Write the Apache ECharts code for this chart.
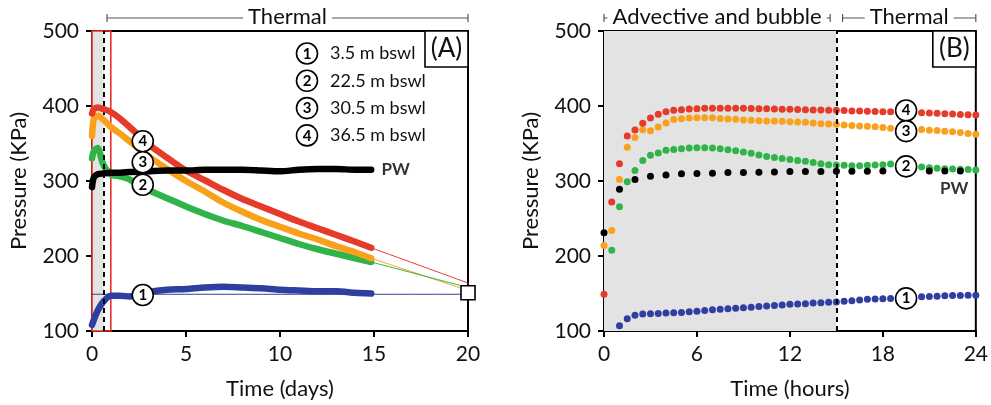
<!DOCTYPE html>
<html><head><meta charset="utf-8">
<script src="https://cdn.jsdelivr.net/npm/echarts/dist/echarts.min.js"></script>
<style>html,body{margin:0;padding:0;background:#fff}#c{width:991px;height:405px}</style>
</head><body><div id="c"></div>
<script>
const FONT = 'Lato';
const C_RED = '#e63a2a', C_ORA = '#f9a11b', C_GRN = '#30b449', C_BLU = '#2e3f9f', C_BLK = '#000';

// ---------- Panel A : time in days ----------
const daysA   = [0, 0.1, 0.3, 0.6, 1, 1.5, 2, 3, 4, 5, 6, 7, 8, 9, 10, 11, 12, 13, 14, 14.85];
const depth4A = [390, 396, 398, 396, 392, 383, 372, 349, 331, 314, 301, 288, 276, 266, 256, 246, 237, 228, 219, 211];
const depth3A = [360, 383, 387, 382, 372, 363, 353, 333, 316, 300, 286, 271, 259, 248, 239, 230, 222, 213, 205, 197];
const depth2A = [330, 340, 344, 322, 309, 306, 302, 288, 277, 266, 256, 247, 240, 232, 224, 216, 209, 203, 197, 192];
const pwA     = [292, 305, 309, 310, 311, 311, 312, 313, 314, 314, 315, 315, 315, 314, 313, 315, 316, 316, 315, 315];
const depth1A = [108, 115, 127, 139, 147, 147, 146, 152, 155, 156, 158, 159, 158, 157, 155, 154, 153, 153, 151, 150];
// projected end values at day 20 (thin connectors)
const endDayA = 20;
const end4A = 164, end3A = 154, end2A = 158, hydroA = 149, squareA = 151;
const regimeSplitDays = 0.625;   // 15 h
const boxEndDays = 1;

// ---------- Panel B : time in hours ----------
const hoursB = [0,0.5,1,1.5,2,2.5,3,3.5,4,4.5,5,5.5,6,6.5,7,7.5,8,8.5,9,9.5,10,10.5,11,11.5,12,12.5,13,13.5,14,14.5,15,15.5,16,16.5,17,17.5,18,18.5,19,19.5,20,20.5,21,21.5,22,22.5,23,23.5,24];
const depth4B = [149,272,323,360,368,377,384,389,392.5,394.3,395,396,396.5,397,397,397,397,397,397,396.8,396.5,396.3,396,395.8,395.6,395.3,395,394.8,394.6,394.4,394.2,393.9,393.5,393.2,392.9,392.7,392.5,392.3,null,null,null,390.9,390.6,390.2,389.6,389.2,388.8,388.4,388];
const depth3B = [214,234,302,345,358,368.5,367,372,377.5,382,383,384,384.3,384.3,384.2,383.5,382.6,382.2,381.3,380.9,380.4,380,380,379.6,379.1,378.7,378.3,377.4,376.5,376.1,375.6,374.8,373.9,373.5,373,372.2,371.3,370.4,null,null,null,368.7,367.8,367.4,366.5,365.7,364.8,363.5,362.2];
const depth2B = [null,207.8,265.7,299,314,327.4,334.3,337.4,341,342,343,344,344.3,344.3,344,343,341.7,340.4,338.7,337,334.8,332.6,331.3,330,328.7,327.4,326.5,324.8,323,321.7,321.3,320.9,320.4,320.4,320.9,321.3,321.7,322.6,null,null,null,318.7,317.8,317,316.5,316,315.7,315.2,314.8];
const pwB     = [231,null,289,null,302,null,306.5,null,308,null,309.6,null,310,null,310.4,null,311.3,null,311.3,null,311.7,null,312,null,312.6,null,312.6,null,312.6,null,313,null,313,null,313,null,313.5,null,null,null,null,null,313.5,null,313.5,null,313.5,null,null];
const depth1B = [null,null,107,116.5,121,122.6,123,123.5,124,124.3,124.8,125.7,126.5,127.4,128.3,129,129.6,130.4,130.9,131.7,132.6,133.5,134,134.8,135.7,136.1,136.5,137.4,137.8,138.3,138.7,139.6,140.4,141.3,142.2,142.6,143,143.5,null,null,null,145.7,146,146.4,146.9,147.2,147.4,147.6,147.8];
const regimeSplitHours = 15;

// ---------- labels ----------
const legendIds   = ['1', '2', '3', '4'];
const legendTexts = ['3.5 m bswl', '22.5 m bswl', '30.5 m bswl', '36.5 m bswl'];
const tagsA = [['4', 2.7, 353], ['3', 2.7, 325], ['2', 2.7, 295], ['1', 2.7, 148]];
const tagsB = [['4', 19.5, 394], ['3', 19.5, 366.5], ['2', 19.5, 319.5], ['1', 19.5, 143.5]];
const pwLabelA = [15.4, 315];
const pwLabelB = [22.6, 290];

const pairs = (xs, ys) => xs.map((x, i) => [x, ys[i]]).filter(p => p[1] != null);

const axisCommon = {
  axisLine: { onZero: false, lineStyle: { color: '#000', width: 2 } },
  axisTick: { length: 6, lineStyle: { color: '#000', width: 2 } },
  axisLabel: { fontSize: 21, fontFamily: FONT, color: '#111', margin: 13 },
  splitLine: { show: false },
  nameLocation: 'middle',
  nameTextStyle: { fontSize: 22, fontFamily: FONT, color: '#111' }
};
const mk = (o) => Object.assign(JSON.parse(JSON.stringify(axisCommon)), o);

function lineA(data, color, w, z) {
  return { type: 'line', xAxisIndex: 0, yAxisIndex: 0, data, symbol: 'none', smooth: 0.25,
    lineStyle: { color, width: w, cap: 'round', join: 'round', opacity: 1 }, z, silent: true };
}
function dotsB(ys, color) {
  return { type: 'scatter', xAxisIndex: 1, yAxisIndex: 1, data: pairs(hoursB, ys), symbolSize: 7,
    itemStyle: { color, opacity: 1 }, z: 3, silent: true };
}
function tagSeries(tags, gi) {
  return { type: 'scatter', xAxisIndex: gi, yAxisIndex: gi, z: 20, silent: true,
    data: tags.map(t => ({ value: [t[1], t[2]], name: t[0] })),
    symbol: 'circle', symbolSize: 21,
    itemStyle: { color: '#fff', borderColor: '#000', borderWidth: 1.6, opacity: 1 },
    label: { show: true, position: 'inside', formatter: p => p.name, color: '#000',
      fontSize: 15, fontWeight: 'bold', fontFamily: FONT } };
}
function pwSeries(pos, gi, align) {
  return { type: 'scatter', xAxisIndex: gi, yAxisIndex: gi, z: 20, silent: true,
    data: [pos], symbolSize: 1, itemStyle: { color: 'rgba(0,0,0,0)' },
    label: { show: true, position: 'inside', align, formatter: 'PW', color: '#000',
      fontSize: 17, fontWeight: 'bold', fontFamily: FONT } };
}

const option = {
  animation: false,
  backgroundColor: '#fff',
  textStyle: { fontFamily: FONT },
  grid: [
    { left: 92, right: 523, top: 31, bottom: 67, show: true, borderColor: '#000', borderWidth: 2, backgroundColor: 'transparent' },
    { left: 604, right: 12, top: 31, bottom: 67, show: true, borderColor: '#000', borderWidth: 2, backgroundColor: 'transparent' }
  ],
  xAxis: [
    mk({ gridIndex: 0, type: 'value', min: 0, max: 20, interval: 5, name: 'Time (days)', nameGap: 47 }),
    mk({ gridIndex: 1, type: 'value', min: 0, max: 24, interval: 6, name: 'Time (hours)', nameGap: 47 })
  ],
  yAxis: [
    mk({ gridIndex: 0, type: 'value', min: 100, max: 500, interval: 100, name: 'Pressure (KPa)', nameGap: 62 }),
    mk({ gridIndex: 1, type: 'value', min: 100, max: 500, interval: 100, name: 'Pressure (KPa)', nameGap: 62 })
  ],
  series: [
    { type: 'line', xAxisIndex: 0, yAxisIndex: 0, data: [], z: 1, silent: true,
      markArea: { silent: true, itemStyle: { color: '#e3e3e3' }, data: [[{ xAxis: 0, yAxis: 100 }, { xAxis: regimeSplitDays, yAxis: 500 }]] },
      markLine: { silent: true, symbol: 'none', label: { show: false }, lineStyle: { color: '#000', type: [5, 4], width: 2 },
        data: [{ xAxis: regimeSplitDays }] } },
    { type: 'line', xAxisIndex: 1, yAxisIndex: 1, data: [], z: 1, silent: true,
      markArea: { silent: true, itemStyle: { color: '#e3e3e3' }, data: [[{ xAxis: 0, yAxis: 100 }, { xAxis: regimeSplitHours, yAxis: 500 }]] },
      markLine: { silent: true, symbol: 'none', label: { show: false }, lineStyle: { color: '#000', type: [5, 4], width: 2 },
        data: [{ xAxis: regimeSplitHours }] } },
    lineA([[0, hydroA], [endDayA, hydroA]], C_BLU, 1, 2),
    lineA([[daysA[daysA.length - 1], depth4A[depth4A.length - 1]], [endDayA, end4A]], C_RED, 1, 2),
    lineA([[daysA[daysA.length - 1], depth3A[depth3A.length - 1]], [endDayA, end3A]], C_ORA, 1, 2),
    lineA([[daysA[daysA.length - 1], depth2A[depth2A.length - 1]], [endDayA, end2A]], C_GRN, 1, 2),
    lineA(pairs(daysA, depth1A), C_BLU, 6.5, 4),
    lineA(pairs(daysA, depth2A), C_GRN, 6.5, 4),
    lineA(pairs(daysA, depth3A), C_ORA, 6.5, 5),
    lineA(pairs(daysA, depth4A), C_RED, 6.5, 6),
    lineA(pairs(daysA, pwA), C_BLK, 6.5, 7),
    { type: 'line', xAxisIndex: 0, yAxisIndex: 0, data: [], z: 9, silent: true,
      markArea: { silent: true, itemStyle: { color: 'rgba(0,0,0,0)', borderColor: '#e8302a', borderWidth: 1.6 },
        data: [[{ xAxis: 0, yAxis: 100 }, { xAxis: boxEndDays, yAxis: 500 }]] } },
    { type: 'scatter', xAxisIndex: 0, yAxisIndex: 0, data: [[endDayA, squareA]], symbol: 'rect', symbolSize: 14, z: 15, silent: true,
      itemStyle: { color: '#fff', borderColor: '#000', borderWidth: 1.6, opacity: 1 } },
    dotsB(depth1B, C_BLU),
    dotsB(depth2B, C_GRN),
    dotsB(depth3B, C_ORA),
    dotsB(depth4B, C_RED),
    dotsB(pwB, C_BLK),
    tagSeries(tagsA, 0),
    tagSeries(tagsB, 1),
    pwSeries(pwLabelA, 0, 'left'),
    pwSeries(pwLabelB, 1, 'center')
  ]
};

const chart = echarts.init(document.getElementById('c'));
chart.setOption(option);

const pA = (x, y) => chart.convertToPixel({ gridIndex: 0 }, [x, y]);
const pB = (x, y) => chart.convertToPixel({ gridIndex: 1 }, [x, y]);
const g = [];
function bracket(x1, x2, y, text) {
  const st = { stroke: '#555', lineWidth: 1.2 };
  g.push({ type: 'line', shape: { x1, y1: y, x2, y2: y }, style: st, z: 50 });
  g.push({ type: 'line', shape: { x1, y1: y - 4, x2: x1, y2: y + 4 }, style: st, z: 50 });
  g.push({ type: 'line', shape: { x1: x2, y1: y - 4, x2, y2: y + 4 }, style: st, z: 50 });
  g.push({ type: 'text', x: (x1 + x2) / 2, y: y - 1, z: 51,
    style: { text, fontSize: 22, fontFamily: FONT, fill: '#111', align: 'center', verticalAlign: 'middle',
      backgroundColor: '#fff', padding: [0, 5] } });
}
const topA = pA(0, 500)[1];
const bY = topA - 13;
bracket(pA(0.8, 500)[0], pA(20, 500)[0], bY, 'Thermal');
bracket(pB(0, 500)[0], pB(14.6, 500)[0], bY, 'Advective and bubble');
bracket(pB(15.4, 500)[0], pB(24, 500)[0], bY, 'Thermal');

function panelTag(rightX, txt) {
  g.push({ type: 'rect', shape: { x: rightX - 43, y: topA, width: 43, height: 36 },
    style: { fill: '#fff', stroke: '#000', lineWidth: 1.6 }, z: 40 });
  g.push({ type: 'text', x: rightX - 21.5, y: topA + 18, z: 41,
    style: { text: txt, fontSize: 26, fontFamily: FONT, fill: '#111', align: 'center', verticalAlign: 'middle' } });
}
panelTag(pA(20, 500)[0], '(A)');
panelTag(pB(24, 500)[0], '(B)');

const legX = 307, legY0 = 53.5, legDY = 27.3;
legendIds.forEach((id, i) => {
  const y = legY0 + i * legDY;
  g.push({ type: 'circle', shape: { cx: legX, cy: y, r: 10.5 }, style: { fill: '#fff', stroke: '#000', lineWidth: 1.6 }, z: 40 });
  g.push({ type: 'text', x: legX, y: y + 0.5, z: 41, style: { text: id, fontSize: 15, fontWeight: 'bold', fontFamily: FONT, fill: '#000', align: 'center', verticalAlign: 'middle' } });
  g.push({ type: 'text', x: legX + 23, y: y, z: 41, style: { text: legendTexts[i], fontSize: 18, fontFamily: FONT, fill: '#111', align: 'left', verticalAlign: 'middle' } });
});
chart.setOption({ graphic: g });
</script>
</body></html>
